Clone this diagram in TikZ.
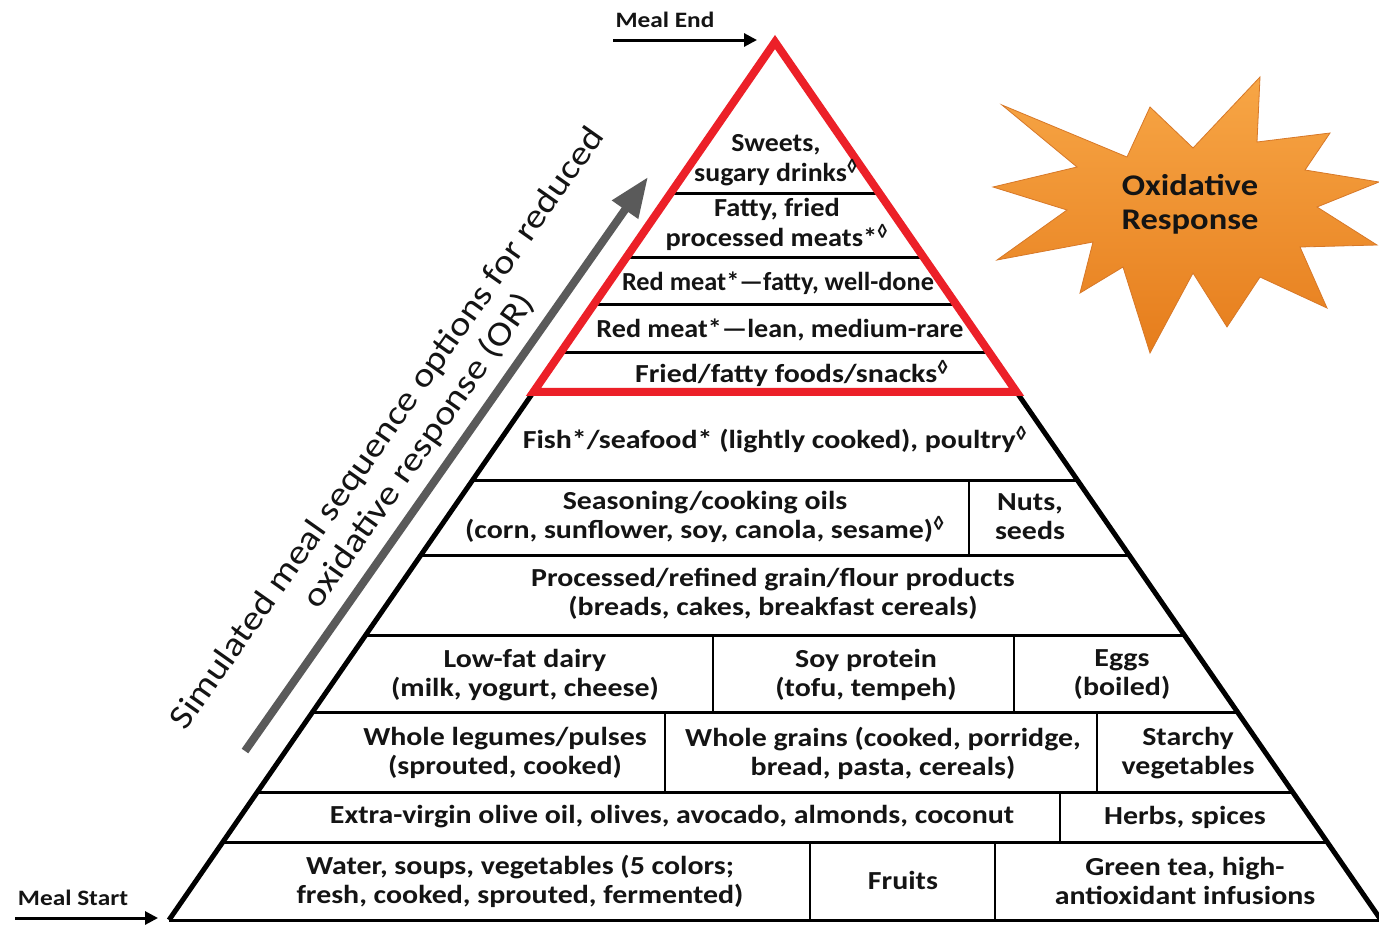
\documentclass[tikz,border=0pt]{standalone}
\usepackage{fontspec}
\setmainfont{Carlito}[FakeStretch=1.15]
\usetikzlibrary{arrows.meta,calc}
\newcommand\lozmark{\textsuperscript{◊}}
\begin{document}
\begin{tikzpicture}[x=1pt,y=-1pt,
  side/.style={line width=5pt},
  rowline/.style={line width=3pt},
  divline/.style={line width=2pt},
  lbl/.style={font=\fontsize{26}{29}\selectfont\bfseries, align=center, text=black!92, inner sep=0pt},
  meal/.style={font=\fontsize{22}{24}\selectfont\bfseries, text=black!92, inner sep=0pt},
  mealarrow/.style={line width=3pt, -{Triangle[length=13pt,width=13pt]}},
  redtri/.style={draw={rgb,255:red,236;green,32;blue,40}, line width=8pt, line join=miter},
  grayarrow/.style={draw={rgb,255:red,90;green,90;blue,90}, line width=8pt, -{Triangle[length=40pt,width=30pt]}},
  burst/.style={top color={rgb,255:red,247;green,166;blue,70}, bottom color={rgb,255:red,230;green,125;blue,28}, draw={rgb,255:red,215;green,120;blue,40}, line width=0.8pt},
  diag/.style={font=\fontsize{34}{39}\selectfont, align=center, text=black!92, inner sep=0pt, rotate=54.8}
]
\useasboundingbox[fill=white] (0,0) rectangle (1379,924);

% pyramid frame
\coordinate (A) at (775,42);
\coordinate (BL) at (169,920);
\coordinate (BR) at (1381,920);

% row lines
\foreach \t/\n in {0.1720/1,0.2460/2,0.2995/3,0.3531/4,0.4989/6,0.5843/7,0.6754/8,0.7631/9,0.8542/10,0.9112/11}{
  \coordinate (L\n) at ($(A)!\t!(BL)$);
  \coordinate (R\n) at ($(A)!\t!(BR)$);
  \draw[rowline] (L\n) -- (R\n);
}
\coordinate (L5) at ($(A)!0.3986!(BL)$);
\coordinate (R5) at ($(A)!0.3986!(BR)$);

% sides and base
\draw[side] (L5) -- (BL);
\draw[side] (R5) -- (BR);
\draw[rowline] (BL) -- (BR);

% dividers
\draw[divline] (969,480) -- (969,555);
\draw[divline] (713,635) -- (713,712);
\draw[divline] (1014,635) -- (1014,712);
\draw[divline] (665,712) -- (665,792);
\draw[divline] (1097,712) -- (1097,792);
\draw[divline] (1060,792) -- (1060,842);
\draw[divline] (810,842) -- (810,920);
\draw[divline] (995,842) -- (995,920);

% red triangle
\draw[redtri] (A) -- (L5) -- (R5) -- cycle;

% labels
\node[lbl] (n1) at (776,161) {\scalebox{0.93}[1]{\begin{tabular}{@{}c@{}}Sweets,\\[-1pt]sugary drinks\lozmark\end{tabular}}};
\node[lbl] (n2) at (777,226) {\scalebox{0.95}[1]{\begin{tabular}{@{}c@{}}Fatty, fried\\[-1pt]processed meats*\lozmark\end{tabular}}};
\node[lbl] (n3) at (778,283) {\scalebox{0.88}[1]{Red meat*—fatty, well-done}};
\node[lbl] (n4) at (780,330) {\scalebox{0.94}[1]{Red meat*—lean, medium-rare}};
\node[lbl] (n5) at (792,373) {Fried/fatty foods/snacks\lozmark};
\node[lbl] (n6) at (775,440) {Fish*/seafood* (lightly cooked), poultry\lozmark};
\node[lbl] (n7a) at (705,517) {Seasoning/cooking oils\\(corn, sunflower, soy, canola, sesame)\lozmark};
\node[lbl] (n7b) at (1030,517) {Nuts,\\seeds};
\node[lbl] (n8) at (773,594) {Processed/refined grain/flour products\\(breads, cakes, breakfast cereals)};
\node[lbl] (n9a) at (525,675) {Low-fat dairy\\(milk, yogurt, cheese)};
\node[lbl] (n9b) at (866,675) {Soy protein\\(tofu, tempeh)};
\node[lbl] (n9c) at (1122,675) {Eggs\\(boiled)};
\node[lbl] (n10a) at (505,753) {Whole legumes/pulses\\(sprouted, cooked)};
\node[lbl] (n10b) at (883,753) {Whole grains (cooked, porridge,\\bread, pasta, cereals)};
\node[lbl] (n10c) at (1188,753) {Starchy\\vegetables};
\node[lbl] (n11a) at (672,817) {Extra-virgin olive oil, olives, avocado, almonds, coconut};
\node[lbl] (n11b) at (1185,817) {Herbs, spices};
\node[lbl] (n12a) at (520,881) {Water, soups, vegetables (5 colors;\\fresh, cooked, sprouted, fermented)};
\node[lbl] (n12b) at (903,880) {Fruits};
\node[lbl] (n12c) at (1185,881) {Green tea, high-\\antioxidant infusions};

% meal start / end
\node[meal] (mend) at (665,20) {Meal End};
\coordinate (me1) at (613,40);
\coordinate (me2) at (757,40);
\draw[mealarrow] (me1) -- (me2);
\node[meal] (mstart) at (73,898) {Meal Start};
\coordinate (ms1) at (15,918);
\coordinate (ms2) at (158,918);
\draw[mealarrow] (ms1) -- (ms2);

% gray arrow and diagonal text
\coordinate (ga1) at (245,751);
\coordinate (ga2) at (648,177);
\draw[grayarrow] (ga1) -- (ga2);
\node[diag] (dtext) at (404,440) {Simulated meal sequence options for reduced\\oxidative response (OR)};

% starburst
\path[burst] (1002,105) -- (1127,157) -- (1150,107) -- (1193,148) -- (1260,77) -- (1257,142)
  -- (1330,133) -- (1305,170) -- (1379,182) -- (1317,207) -- (1377,245) -- (1300,247)
  -- (1327,308) -- (1260,277) -- (1227,327) -- (1193,273) -- (1150,353) -- (1123,267)
  -- (1080,293) -- (1093,242) -- (997,260) -- (1067,210) -- (993,187) -- (1077,167) -- cycle;
\node[font=\fontsize{30}{34}\selectfont\bfseries, align=center, text=black!92, inner sep=0pt] (ox) at (1190,204) {Oxidative\\Response};
\end{tikzpicture}
\end{document}
